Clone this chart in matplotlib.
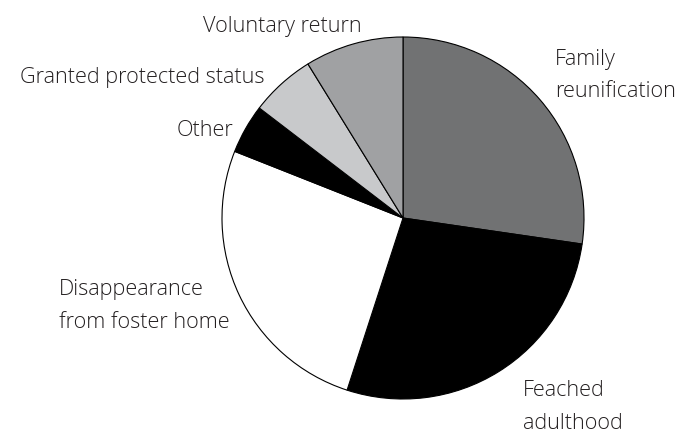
import matplotlib.pyplot as plt
import numpy as np

# Datos (porcentajes)
categorias = ['Family\nreunification', 'Feached\nadulthood', 'Disappearance\nfrom foster home',
              'Other', 'Granted protected status', 'Voluntary return']
valores = [27.3, 27.7, 26.0, 4.4, 5.8, 8.8]
colores = ['#717273', '#000000', '#ffffff', '#000000', '#c8c9cb', '#a0a1a3']

# posiciones de las etiquetas (en unidades del radio)
pos_etiquetas = [(0.840, 0.788), (0.663, -1.044), (-1.901, -0.486),
                 (-1.249, 0.484), (-2.116, 0.777), (-1.105, 1.060)]

fig = plt.figure(figsize=(6.8, 4.33), dpi=100)
ax = fig.add_axes([0, 0, 1, 1])

ax.pie(valores, colors=colores, startangle=90, counterclock=False, radius=1,
       wedgeprops={'edgecolor': 'black', 'linewidth': 0.8})

for txt, (x, y) in zip(categorias, pos_etiquetas):
    ax.text(x, y, txt, ha='left', va='center', fontsize=15.6, color='#231f20',
            family='Open Sans', fontweight='light', linespacing=1.7)

esc = 181.0
ax.set_xlim(-403 / esc, (680 - 403) / esc)
ax.set_ylim(-215 / esc, 218 / esc)
ax.axis('off')

fig.savefig('out.png', dpi=100)
